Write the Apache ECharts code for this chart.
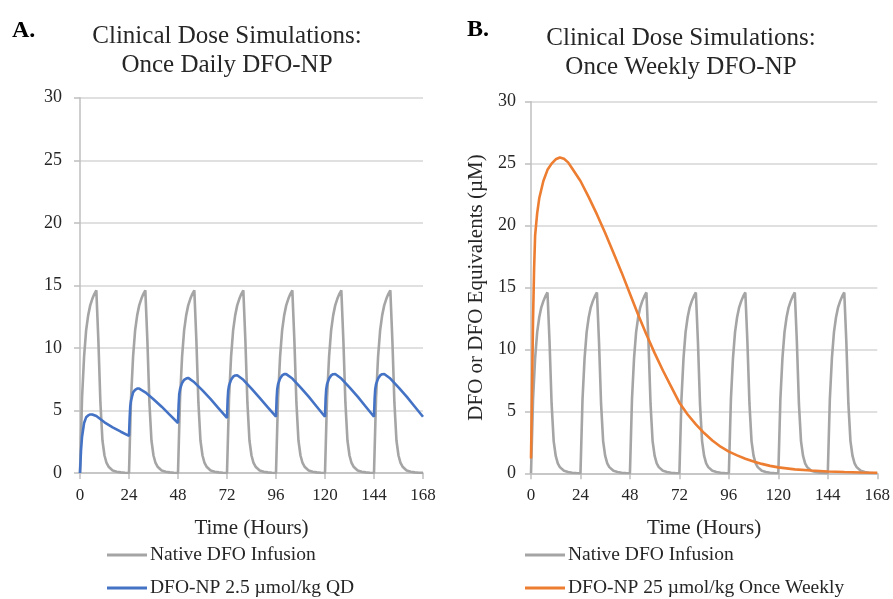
<!DOCTYPE html>
<html><head><meta charset="utf-8">
<script src="https://cdn.jsdelivr.net/npm/echarts@6/dist/echarts.min.js"></script>
<style>html,body{margin:0;padding:0;background:#fff}#c{width:893px;height:599px}</style>
</head><body><div id="c"></div>
<script>
// ---------- data ----------
var xTicks = [0, 24, 48, 72, 96, 120, 144, 168];
var yTicks = [0, 5, 10, 15, 20, 25, 30];

var nativeHours = [
  0,1,2,3,4,5,6,7,8,9,10,11,12,13,14,16,18,20,22,
  24,25,26,27,28,29,30,31,32,33,34,35,36,37,38,40,42,44,46,
  48,49,50,51,52,53,54,55,56,57,58,59,60,61,62,64,66,68,70,
  72,73,74,75,76,77,78,79,80,81,82,83,84,85,86,88,90,92,94,
  96,97,98,99,100,101,102,103,104,105,106,107,108,109,110,112,114,116,118,
  120,121,122,123,124,125,126,127,128,129,130,131,132,133,134,136,138,140,142,
  144,145,146,147,148,149,150,151,152,153,154,155,156,157,158,160,162,164,166,
  168
];
var nativeConc = [
  0,6.0,9.3,11.4,12.6,13.4,13.9,14.3,14.6,10.6,5.6,2.6,1.4,0.8,0.5,0.2,0.1,0.05,0.02,
  0,6.0,9.3,11.4,12.6,13.4,13.9,14.3,14.6,10.6,5.6,2.6,1.4,0.8,0.5,0.2,0.1,0.05,0.02,
  0,6.0,9.3,11.4,12.6,13.4,13.9,14.3,14.6,10.6,5.6,2.6,1.4,0.8,0.5,0.2,0.1,0.05,0.02,
  0,6.0,9.3,11.4,12.6,13.4,13.9,14.3,14.6,10.6,5.6,2.6,1.4,0.8,0.5,0.2,0.1,0.05,0.02,
  0,6.0,9.3,11.4,12.6,13.4,13.9,14.3,14.6,10.6,5.6,2.6,1.4,0.8,0.5,0.2,0.1,0.05,0.02,
  0,6.0,9.3,11.4,12.6,13.4,13.9,14.3,14.6,10.6,5.6,2.6,1.4,0.8,0.5,0.2,0.1,0.05,0.02,
  0,6.0,9.3,11.4,12.6,13.4,13.9,14.3,14.6,10.6,5.6,2.6,1.4,0.8,0.5,0.2,0.1,0.05,0.02,
  0.01
];

var qdHours = [
  0,0.5,1,2,3,4,5,6,8,12,16,20,24,
  24.3,24.6,25,26,27,28,29,32,36,40,44,48,
  48.3,48.6,49,50,51,52,53,56,60,64,68,72,
  72.3,72.6,73,74,75,76,77,80,84,88,92,96,
  96.3,96.6,97,98,99,100,101,104,108,112,116,120,
  120.3,120.6,121,122,123,124,125,128,132,136,140,144,
  144.3,144.6,145,146,147,148,149,152,156,160,164,168
];
var qdConc = [
  0,1.8,2.9,4.0,4.45,4.6,4.68,4.68,4.55,4.05,3.65,3.3,2.97,
  4.3,5.3,5.8,6.45,6.65,6.75,6.75,6.45,5.9,5.3,4.65,4.0,
  5.4,6.3,6.7,7.2,7.45,7.55,7.6,7.25,6.6,5.9,5.15,4.4,
  5.8,6.6,7.0,7.45,7.7,7.8,7.82,7.45,6.75,6.0,5.25,4.5,
  5.9,6.7,7.1,7.55,7.8,7.9,7.9,7.55,6.85,6.1,5.3,4.5,
  5.9,6.7,7.1,7.55,7.8,7.9,7.92,7.55,6.85,6.1,5.3,4.5,
  5.9,6.7,7.1,7.55,7.8,7.9,7.92,7.55,6.85,6.1,5.3,4.5
];

var weeklyHours = [0,0.5,1,1.5,2,3,4,6,8,10,12,14,16,18,20,24,28,32,36,40,44,48,52,56,60,64,68,72,76,80,84,88,92,96,100,104,108,112,116,120,128,136,144,152,160,168];
var weeklyConc = [1.2,6.8,12.5,16.5,19.2,21.0,22.2,23.6,24.5,25.0,25.35,25.5,25.4,25.1,24.6,23.6,22.3,20.9,19.4,17.8,16.2,14.5,12.8,11.2,9.7,8.3,7.0,5.7,4.75,3.95,3.25,2.65,2.15,1.75,1.45,1.18,0.95,0.76,0.6,0.48,0.32,0.22,0.15,0.1,0.07,0.05];

var nameNative = 'Native DFO Infusion';
var nameQD = 'DFO-NP 2.5 \u00b5mol/kg QD';
var nameWeekly = 'DFO-NP 25 \u00b5mol/kg Once Weekly';

// ---------- chart ----------
function pairs(xs, ys) { return xs.map(function (x, i) { return [x, ys[i]]; }); }
var FONT = "'Liberation Serif', 'Times New Roman', serif";
var AX = '#bfbfbf', GRIDC = '#d6d6d6', TXT = '#262626';
var C_NATIVE = '#a5a5a5', C_QD = '#4472c4', C_WEEKLY = '#ed7d31';

function xAxis(gi) {
  return {
    type: 'value', gridIndex: gi, min: xTicks[0], max: xTicks[xTicks.length - 1], interval: 24,
    name: 'Time (Hours)', nameLocation: 'middle', nameGap: 45,
    nameTextStyle: { fontFamily: FONT, fontSize: 21, color: TXT },
    axisLine: { show: true, onZero: false, lineStyle: { color: AX, width: 1.5 } },
    axisTick: { show: true, length: 6, lineStyle: { color: AX, width: 1.5 } },
    axisLabel: { fontFamily: FONT, fontSize: 17, color: TXT, margin: 14 },
    splitLine: { show: false }
  };
}
function yAxis(gi, name, margin) {
  return {
    type: 'value', gridIndex: gi, min: yTicks[0], max: yTicks[yTicks.length - 1], interval: 5,
    name: name, nameLocation: 'middle', nameGap: 44,
    nameTextStyle: { fontFamily: FONT, fontSize: 21, color: TXT },
    axisLine: { show: true, lineStyle: { color: AX, width: 1.5 } },
    axisTick: { show: true, length: 6, lineStyle: { color: AX, width: 1.5 } },
    axisLabel: { fontFamily: FONT, fontSize: 18, color: TXT, margin: margin },
    splitLine: { show: true, lineStyle: { color: GRIDC, width: 1.5 } }
  };
}
function lineSeries(name, gi, data, color) {
  return {
    type: 'line', name: name, xAxisIndex: gi, yAxisIndex: gi, data: data,
    showSymbol: false, symbol: 'none', smooth: false,
    lineStyle: { color: color, width: 2.6 }, itemStyle: { color: color },
    emphasis: { disabled: true }, animation: false
  };
}
function legendItem(x, y, color, label) {
  return [
    { type: 'line', shape: { x1: x, y1: y, x2: x + 40, y2: y }, style: { stroke: color, lineWidth: 3 } },
    { type: 'text', x: x + 43, y: y, style: { text: label, font: '19.5px ' + FONT, fill: TXT, textVerticalAlign: 'middle', verticalAlign: 'middle' } }
  ];
}

var chart = echarts.init(document.getElementById('c'), null, { renderer: 'canvas' });
chart.setOption({
  backgroundColor: '#ffffff',
  animation: false,
  title: [
    { text: 'A.', left: 7, top: 14, textStyle: { fontFamily: FONT, fontSize: 24, fontWeight: 'bold', color: '#000' } },
    { text: 'B.', left: 462, top: 13, textStyle: { fontFamily: FONT, fontSize: 24, fontWeight: 'bold', color: '#000' } },
    { text: 'Clinical Dose Simulations:\nOnce Daily DFO-NP', left: 222, top: 17, textAlign: 'center',
      textStyle: { fontFamily: FONT, fontSize: 25, fontWeight: 'normal', color: TXT, lineHeight: 29 } },
    { text: 'Clinical Dose Simulations:\nOnce Weekly DFO-NP', left: 676, top: 19, textAlign: 'center',
      textStyle: { fontFamily: FONT, fontSize: 25, fontWeight: 'normal', color: TXT, lineHeight: 29 } }
  ],
  graphic: [].concat(
    legendItem(107, 555, C_NATIVE, nameNative),
    legendItem(107, 588, C_QD, nameQD),
    legendItem(525, 555, C_NATIVE, nameNative),
    legendItem(525, 588, C_WEEKLY, nameWeekly)
  ),
  grid: [
    { left: 80, top: 97.7, width: 343, height: 375.3 },
    { left: 531, top: 101.7, width: 347, height: 371.6 }
  ],
  xAxis: [xAxis(0), xAxis(1)],
  yAxis: [yAxis(0, '', 18), yAxis(1, 'DFO or DFO Equivalents (\u00b5M)', 15)],
  series: [
    lineSeries(nameNative, 0, pairs(nativeHours, nativeConc), C_NATIVE),
    lineSeries(nameQD, 0, pairs(qdHours, qdConc), C_QD),
    lineSeries(nameNative, 1, pairs(nativeHours, nativeConc), C_NATIVE),
    lineSeries(nameWeekly, 1, pairs(weeklyHours, weeklyConc), C_WEEKLY)
  ]
});
</script></body></html>
